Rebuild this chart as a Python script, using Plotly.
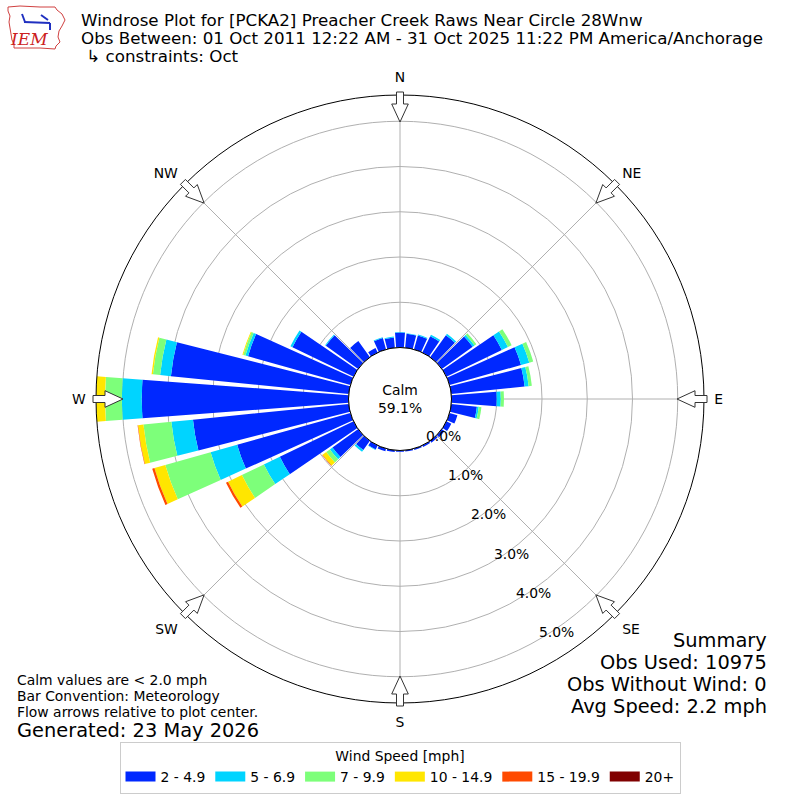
import math
import plotly.graph_objects as go

# ---------------- data ----------------
directions = list(range(0, 360, 10))
speed_bins = ["2 - 4.9", "5 - 6.9", "7 - 9.9", "10 - 14.9", "15 - 19.9", "20+"]
bin_colors = ["#0028ff", "#00d4ff", "#7dff7a", "#ffe600", "#ff4a00", "#800000"]

# frequency (%) per direction for each speed bin
freq_2_5 = [0.33, 0.31, 0.32, 0.40, 0.60, 0.84, 1.36, 1.64, 1.63, 1.00, 0.57, 0.18,
            0.12, 0.07, 0.05, 0.04, 0.03, 0.03, 0.03, 0.04, 0.06, 0.10, 0.25, 0.70,
            1.81, 2.60, 3.46, 4.57, 3.95, 2.35, 1.50, 0.88, 0.44, 0.11, 0.26, 0.23]
freq_5_7 = [0.01, 0.01, 0.02, 0.04, 0.04, 0.05, 0.15, 0.19, 0.09, 0.09, 0.04, 0.00,
            0.00, 0.00, 0.00, 0.00, 0.00, 0.00, 0.00, 0.00, 0.00, 0.01, 0.05, 0.07,
            0.39, 0.61, 0.48, 0.44, 0.24, 0.06, 0.05, 0.02, 0.00, 0.00, 0.02, 0.02]
freq_7_10 = [0.00, 0.00, 0.00, 0.00, 0.00, 0.05, 0.09, 0.09, 0.07, 0.07, 0.06, 0.00,
             0.00, 0.00, 0.00, 0.00, 0.00, 0.00, 0.00, 0.00, 0.00, 0.00, 0.00, 0.10,
             0.54, 1.04, 0.62, 0.37, 0.16, 0.05, 0.00, 0.00, 0.00, 0.00, 0.00, 0.00]
freq_10_15 = [0.00, 0.00, 0.00, 0.00, 0.00, 0.00, 0.00, 0.00, 0.00, 0.00, 0.00, 0.00,
              0.00, 0.00, 0.00, 0.00, 0.00, 0.00, 0.00, 0.00, 0.00, 0.00, 0.00, 0.10,
              0.34, 0.25, 0.12, 0.20, 0.03, 0.02, 0.00, 0.00, 0.00, 0.00, 0.00, 0.00]
freq_15_20 = [0.00, 0.00, 0.00, 0.00, 0.00, 0.00, 0.00, 0.00, 0.00, 0.00, 0.00, 0.00,
              0.00, 0.00, 0.00, 0.00, 0.00, 0.00, 0.00, 0.00, 0.00, 0.00, 0.00, 0.01,
              0.05, 0.05, 0.01, 0.00, 0.00, 0.00, 0.00, 0.00, 0.00, 0.00, 0.00, 0.00]
freq_20p = [0.0] * 36
bin_freqs = [freq_2_5, freq_5_7, freq_7_10, freq_10_15, freq_15_20, freq_20p]

compass_vals = [0, 45, 90, 135, 180, 225, 270, 315]
compass_text = ["N", "NE", "E", "SE", "S", "SW", "W", "NW"]
radial_ticks = [0, 1, 2, 3, 4, 5]
calm_pct = 59.1
RMAX = 5.58

title_lines = [
    "Windrose Plot for [PCKA2] Preacher Creek Raws Near Circle 28Wnw",
    "Obs Between: 01 Oct 2011 12:22 AM - 31 Oct 2025 11:22 PM America/Anchorage",
    "\u00a0\u21b3 constraints: Oct",
]
notes = ["Calm values are < 2.0 mph", "Bar Convention: Meteorology",
         "Flow arrows relative to plot center."]
generated = "Generated: 23 May 2026"
summary = ["Summary", "Obs Used: 10975", "Obs Without Wind: 0", "Avg Speed: 2.2 mph"]

# ---------------- layout geometry ----------------
W = H = 800
CX, CY = 400, 399
R_OUT = 304.0
R_HOLE = 51.5
FONT = "DejaVu Sans"


def px2paper(x, y):
    return x / W, 1 - y / H


def polar_px(bearing, rpx):
    b = math.radians(bearing)
    return CX + rpx * math.sin(b), CY - rpx * math.cos(b)


fig = go.Figure()
for label, color, vals in zip(speed_bins, bin_colors, bin_freqs):
    fig.add_trace(go.Barpolar(
        r=vals, theta=directions, width=8.6, name=label,
        marker=dict(color=color, line=dict(width=0)),
        showlegend=False, hoverinfo="skip",
    ))
# legend entries
for label, color in zip(speed_bins, bin_colors):
    fig.add_trace(go.Scatterpolar(
        r=[None], theta=[None], mode="lines", name=label,
        line=dict(color=color, width=10), hoverinfo="skip",
    ))

dx0, dy0 = px2paper(CX - R_OUT, CY + R_OUT)
dx1, dy1 = px2paper(CX + R_OUT, CY - R_OUT)

fig.update_layout(
    width=W, height=H, margin=dict(l=0, r=0, t=0, b=0),
    paper_bgcolor="white", plot_bgcolor="white",
    font=dict(family=FONT, color="black", size=13.9),
    polar=dict(
        domain=dict(x=[dx0, dx1], y=[dy0, dy1]),
        hole=R_HOLE / R_OUT,
        bgcolor="white",
        barmode="stack",
        radialaxis=dict(range=[0, RMAX], tickvals=radial_ticks[1:], showticklabels=False,
                        ticks="", showline=False, gridcolor="#b0b0b0", gridwidth=1),
        angularaxis=dict(direction="clockwise", rotation=90, tickmode="array",
                         tickvals=compass_vals, ticktext=compass_text,
                         showline=True, linecolor="black", linewidth=1,
                         gridcolor="#b0b0b0", gridwidth=1,
                         ticks="outside", ticklen=7, tickcolor="rgba(0,0,0,0)",
                         tickfont=dict(size=13.9, color="black", family=FONT)),
    ),
    legend=dict(
        orientation="h", x=0.5, xanchor="center", y=1 - 742 / H, yanchor="top",
        title=dict(text="Wind Speed [mph]", side="top center", font=dict(size=13.9)),
        font=dict(size=13.9), bordercolor="#cccccc", borderwidth=1, bgcolor="white",
        itemwidth=30,
    ),
)

annotations = []
shapes = []

# calm circle and label
hx0, hy0 = px2paper(CX - R_HOLE, CY + R_HOLE)
hx1, hy1 = px2paper(CX + R_HOLE, CY - R_HOLE)
shapes.append(dict(type="circle", xref="paper", yref="paper", x0=hx0, y0=hy0, x1=hx1, y1=hy1,
                   line=dict(color="black", width=1), fillcolor="white", layer="above"))
cx, cy = px2paper(CX, CY)
annotations.append(dict(x=cx, y=cy, xref="paper", yref="paper", showarrow=False,
                        text=f"Calm<br>{calm_pct:.1f}%", font=dict(size=13.9),
                        xanchor="center", yanchor="middle"))

# radial tick labels (placed beside a 150 deg spoke)
for t in radial_ticks:
    rpx = R_HOLE + t * (R_OUT - R_HOLE) / RMAX
    x, y = polar_px(150, rpx)
    px, py = px2paper(x + 17.5, y - 7.6)
    annotations.append(dict(x=px, y=py, xref="paper", yref="paper", showarrow=False,
                            text=f"{t:.1f}%", font=dict(size=13.9),
                            xanchor="center", yanchor="middle"))

# compass arrows (pointing inward)
for b in compass_vals:
    rad = math.radians(b)
    pts = [(307, -3.5), (295, -3.5), (295, -8.3), (277, 0), (295, 8.3), (295, 3.5), (307, 3.5)]
    path = ""
    for i, (rr, v) in enumerate(pts):
        x = CX + rr * math.sin(rad) + v * math.cos(rad)
        y = CY - rr * math.cos(rad) + v * math.sin(rad)
        px, py = px2paper(x, y)
        path += ("M" if i == 0 else "L") + f"{px:.5f},{py:.5f}"
    path += "Z"
    shapes.append(dict(type="path", xref="paper", yref="paper", path=path,
                       fillcolor="white", line=dict(color="#333333", width=1), layer="above"))

# title lines
for i, (txt, yy) in enumerate(zip(title_lines, [19.5, 38.5, 56])):
    px, py = px2paper(80, yy)
    annotations.append(dict(x=px, y=py, xref="paper", yref="paper", showarrow=False,
                            text=txt, font=dict(size=16.7), xanchor="left", yanchor="middle",
                            borderpad=0))

# notes bottom-left
for txt, yy in zip(notes, [680, 696, 712]):
    px, py = px2paper(16, yy)
    annotations.append(dict(x=px, y=py, xref="paper", yref="paper", showarrow=False,
                            text=txt, font=dict(size=13.9), xanchor="left", yanchor="middle",
                            borderpad=0))
px, py = px2paper(16, 730)
annotations.append(dict(x=px, y=py, xref="paper", yref="paper", showarrow=False,
                        text=generated, font=dict(size=19.4), xanchor="left", yanchor="middle",
                        borderpad=0))

# summary bottom-right
for txt, yy in zip(summary, [640, 662, 684, 706]):
    px, py = px2paper(768, yy)
    annotations.append(dict(x=px, y=py, xref="paper", yref="paper", showarrow=False,
                            text=txt, font=dict(size=19.4), xanchor="right", yanchor="middle",
                            borderpad=0))

# logo (approximate Iowa outline)
logo_pts = [(8, 7), (20, 6), (40, 7), (55, 7), (57, 10), (62, 14), (65, 20), (62, 26),
            (59, 31), (58, 37), (60, 42), (56, 46), (55, 49), (40, 48), (20, 48),
            (14, 48), (14, 44), (12, 40), (11, 34), (10, 28), (9, 22), (10, 16), (8, 11)]
lp = ""
for i, (x, y) in enumerate(logo_pts):
    px, py = px2paper(x, y)
    lp += ("M" if i == 0 else "L") + f"{px:.5f},{py:.5f}"
lp += "Z"
shapes.append(dict(type="path", xref="paper", yref="paper", path=lp,
                   line=dict(color="#d04040", width=1), fillcolor="white", layer="below"))
for (x0, y0, x1, y1) in [(24, 22, 50, 23), (22, 14, 25, 22), (41, 15, 48, 20), (50, 23, 50, 30)]:
    a0, b0 = px2paper(x0, y0)
    a1, b1 = px2paper(x1, y1)
    shapes.append(dict(type="line", xref="paper", yref="paper", x0=a0, y0=b0, x1=a1, y1=b1,
                       line=dict(color="#2030c0", width=2), layer="above"))
px, py = px2paper(29, 39)
annotations.append(dict(x=px, y=py, xref="paper", yref="paper", showarrow=False,
                        text="<i>IEM</i>", font=dict(size=17, family="DejaVu Serif", color="#cc2020"),
                        xanchor="center", yanchor="middle"))

fig.update_layout(annotations=annotations, shapes=shapes)
fig.write_html(
    "out.html",
    config={"displayModeBar": False},
    post_script="document.body.style.margin='0';document.body.style.padding='0';"
                "document.body.style.overflow='hidden';",
)
